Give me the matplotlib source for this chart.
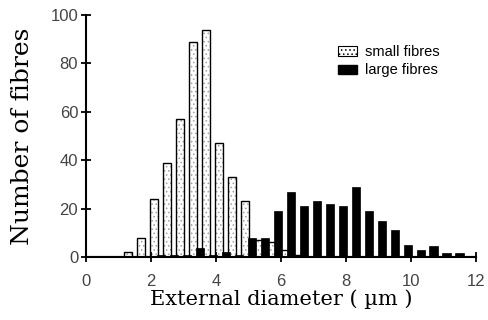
import matplotlib.pyplot as plt
import numpy as np
from matplotlib.patches import Patch

# bin centres (um) and counts
small_x = [1.3, 1.7, 2.1, 2.5, 2.9, 3.3, 3.7, 4.1, 4.5, 4.9, 5.3, 5.7, 6.1, 6.5]
small_n = [2, 8, 24, 39, 57, 89, 94, 47, 33, 23, 7, 6, 3, 1]

large_x = [2.3, 2.7, 3.1, 3.5, 3.9, 4.3, 4.7, 5.1, 5.5, 5.9, 6.3, 6.7, 7.1, 7.5,
           7.9, 8.3, 8.7, 9.1, 9.5, 9.9, 10.3, 10.7, 11.1, 11.5]
large_n = [1, 1, 1, 3.5, 1, 2, 1, 8, 8, 19, 27, 21, 23, 22,
           21, 29, 19, 15, 11, 5, 3, 4.5, 1.5, 1.5]

xticks = [0, 2, 4, 6, 8, 10, 12]
yticks = [0, 20, 40, 60, 80, 100]

plt.rcParams['hatch.color'] = '#a0a0a0'
plt.rcParams['hatch.linewidth'] = 0.6

fig = plt.figure(figsize=(4.88, 3.2), dpi=100)
ax = fig.add_axes([0.176, 0.197, 0.799, 0.756])

w = 0.25
ax.bar(small_x, small_n, width=w, color='white', edgecolor='#a0a0a0',
       hatch='....', linewidth=0)
ax.bar(small_x, small_n, width=w, fill=False, edgecolor='black', linewidth=1.0)
ax.bar(large_x, large_n, width=w, color='black', edgecolor='black', linewidth=0.5)
ax.plot([0, 12], [0, 0], color='black', lw=1.5)

ax.set_xlim(0, 12)
ax.set_ylim(0, 100)
ax.set_xticks(xticks)
ax.set_yticks(yticks)
for s in ['top', 'right']:
    ax.spines[s].set_visible(False)
for s in ['left', 'bottom']:
    ax.spines[s].set_linewidth(1.5)
ax.tick_params(direction='inout', length=7, width=1.3, labelsize=12,
               labelcolor='#444444', pad=2)
ax.tick_params(axis='x', pad=9)
for lab in ax.get_xticklabels() + ax.get_yticklabels():
    lab.set_fontfamily('Liberation Sans')

ax.set_ylabel('Number of fibres', family='DejaVu Serif', fontsize=18, labelpad=12)
ax.set_xlabel('External diameter ( \u00b5m )', family='DejaVu Serif', fontsize=15,
              labelpad=0)

handles = [Patch(facecolor='white', edgecolor='black', hatch='....', lw=0.8),
           Patch(facecolor='black', edgecolor='black')]
ax.legend(handles, ['small fibres', 'large fibres'], loc='upper right',
          bbox_to_anchor=(0.94, 0.93), frameon=False,
          handlelength=1.3, handleheight=0.6, handletextpad=0.5, labelspacing=0.3,
          prop={'family': 'Liberation Sans', 'size': 10.5})

fig.savefig('out.png', dpi=100)
